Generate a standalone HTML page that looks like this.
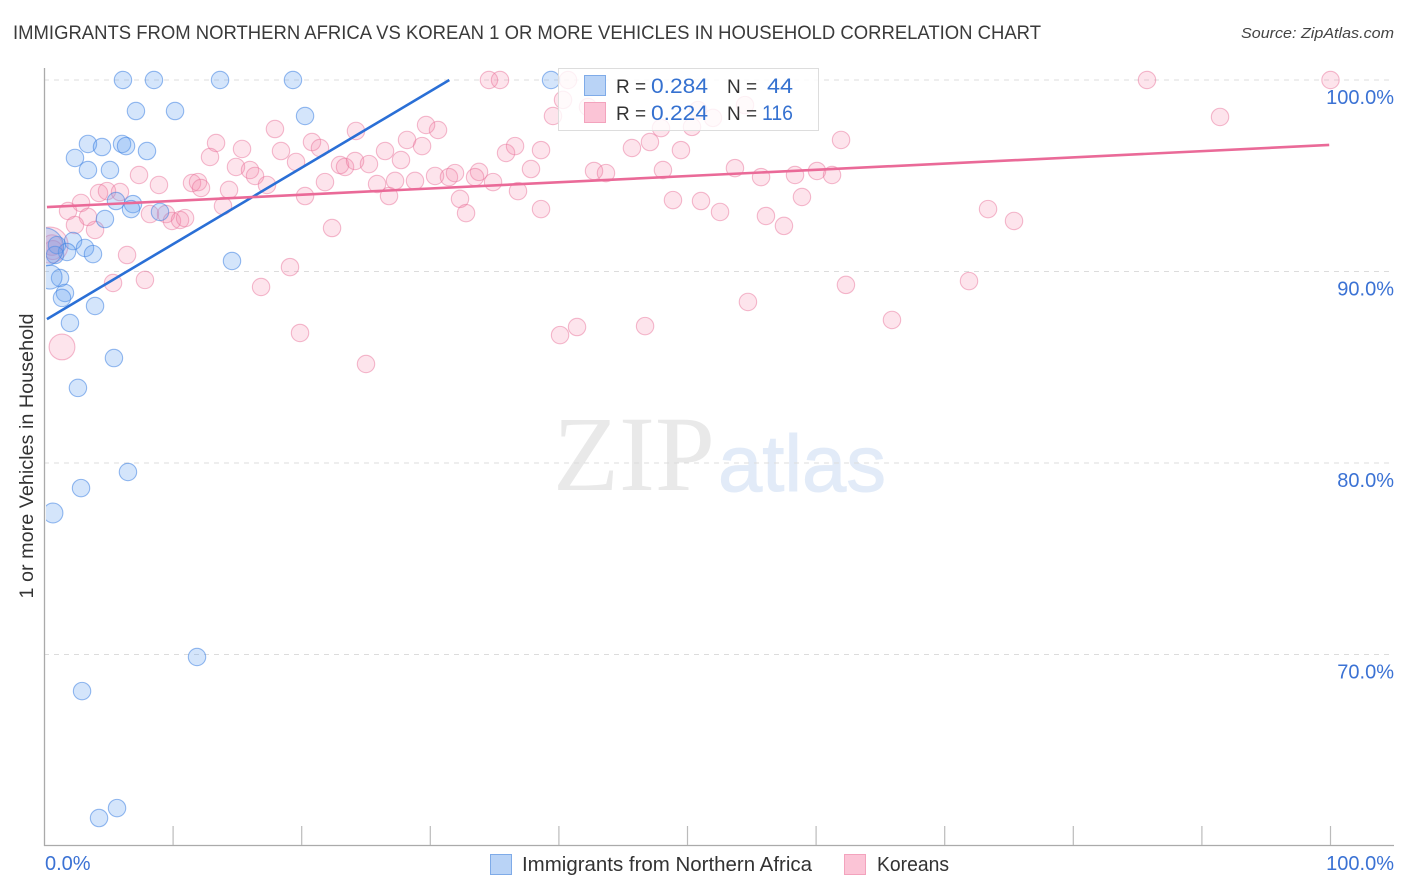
<!DOCTYPE html>
<html lang="en">
<head>
<meta charset="utf-8">
<title>Immigrants from Northern Africa vs Korean correlation chart</title>
<style>
html,body{margin:0;padding:0;background:#fff;width:1406px;height:892px;overflow:hidden}
svg{display:block;font-family:"Liberation Sans",sans-serif}
</style>
</head>
<body>
<svg id="chart" width="1406" height="892" viewBox="0 0 1406 892" xmlns="http://www.w3.org/2000/svg">
  <defs><clipPath id="plot-clip"><rect x="46" y="60" width="1350" height="786"/></clipPath></defs>
  <text x="13" y="39" font-size="19" fill="#3a3a3a" textLength="1028" lengthAdjust="spacingAndGlyphs">IMMIGRANTS FROM NORTHERN AFRICA VS KOREAN 1 OR MORE VEHICLES IN HOUSEHOLD CORRELATION CHART</text>
  <text x="1241" y="38" font-size="15" font-style="italic" fill="#444" textLength="153" lengthAdjust="spacingAndGlyphs">Source: ZipAtlas.com</text>
  <g>
    <text x="553" y="490" font-family="'Liberation Serif',serif" font-size="107" fill="#e9e9e9" textLength="162" lengthAdjust="spacingAndGlyphs">ZIP</text>
    <text x="718" y="491" font-size="80" fill="#e2ebf8" stroke="#e2ebf8" stroke-width="1" textLength="168" lengthAdjust="spacingAndGlyphs">atlas</text>
  </g>
  <g id="grid"></g>
  <g id="axes"></g>
  <g id="points" clip-path="url(#plot-clip)"></g>
  <g id="trends"></g>
  <text transform="translate(33,456) rotate(-90)" font-size="19.5" fill="#333" text-anchor="middle" textLength="285" lengthAdjust="spacingAndGlyphs">1 or more Vehicles in Household</text>
  <g>
    <rect x="558.5" y="68.5" width="260" height="62" fill="#fff" fill-opacity="0.8" stroke="#ddd"/>
    <rect x="584.5" y="75.5" width="21" height="20" fill="#b9d3f6" stroke="#7fabe8"/>
    <rect x="584.5" y="102.5" width="21" height="20" fill="#fbc4d6" stroke="#f3a3bd"/>
    <text x="616" y="93" font-size="19" fill="#333">R =</text>
    <text x="651" y="93" font-size="21" fill="#3571d0" textLength="57" lengthAdjust="spacingAndGlyphs">0.284</text>
    <text x="727" y="93" font-size="19" fill="#333">N =</text>
    <text x="767" y="93" font-size="21" fill="#3571d0" textLength="26" lengthAdjust="spacingAndGlyphs">44</text>
    <text x="616" y="120" font-size="19" fill="#333">R =</text>
    <text x="651" y="120" font-size="21" fill="#3571d0" textLength="57" lengthAdjust="spacingAndGlyphs">0.224</text>
    <text x="727" y="120" font-size="19" fill="#333">N =</text>
    <text x="762" y="120" font-size="21" fill="#3571d0" textLength="31" lengthAdjust="spacingAndGlyphs">116</text>
  </g>
  <g>
    <rect x="490.5" y="854.5" width="21" height="20" fill="#b9d3f6" stroke="#7fabe8"/>
    <text x="522" y="871" font-size="20" fill="#333" textLength="290" lengthAdjust="spacingAndGlyphs">Immigrants from Northern Africa</text>
    <rect x="844.5" y="854.5" width="21" height="20" fill="#fbc4d6" stroke="#f3a3bd"/>
    <text x="877" y="871" font-size="20" fill="#333" textLength="72" lengthAdjust="spacingAndGlyphs">Koreans</text>
  </g>
</svg>
<script>
const yTickValues = [100, 90, 80, 70];
const yTickLabels = ["100.0%", "90.0%", "80.0%", "70.0%"];
const xTickValues = [0, 10, 20, 30, 40, 50, 60, 70, 80, 90, 100];
const xEndLabels = ["0.0%", "100.0%"];

const africaShare = [6.10,8.51,13.65,19.32,39.39,7.11,10.15,20.26,3.38,6.03,6.34,4.47,7.97,2.37,3.38,5.09,5.56,6.88,6.73,8.98,4.70,0.97,2.22,3.15,1.75,3.77,14.58,0.82,1.21,0.43,1.59,1.36,3.93,1.98,5.40,2.60,6.49,2.84,0.66,11.86,2.92,5.64,4.24,0.00];
const africaVehicles = [100,100,100,100,100,98.38,98.38,98.12,96.66,96.66,96.55,96.50,96.29,95.93,95.30,95.30,93.68,93.52,93.26,93.11,92.74,91.38,91.59,91.23,91.02,90.91,90.55,90.86,89.66,89.71,88.88,88.62,88.20,87.31,85.48,83.92,79.53,78.69,77.39,69.87,68.09,61.98,61.46,91.28];
const africaWeight = [1,1,1,1,1,1,1,1,1,1,1,1,1,1,1,1,1,1,1,1,1,1,1,1,1,1,1,1,1,1.9,1,1,1,1,1,1,1,1,1.3,1,1,1,1,4.8];

const koreanShare = [34.56,35.42,40.71,85.73,100,40.32,42.26,39.54,50.82,51.98,54.47,47.94,50.35,45.68,47.08,49.49,61.94,35.89,36.59,38.61,37.83,42.73,43.66,48.09,53.69,55.72,58.36,60.07,61.24,91.41,17.92,13.34,12.87,15.36,18.39,20.80,21.42,19.56,14.89,15.98,16.37,7.35,8.90,11.47,11.94,12.17,14.35,17.30,21.81,22.98,23.37,20.26,13.88,22.36,4.24,4.86,5.87,2.84,1.83,3.38,2.37,3.93,8.20,9.45,9.91,10.54,10.93,6.42,5.33,7.81,16.84,19.09,19.87,1.36,0.58,0.66,24.22,28.19,30.60,29.67,29.36,24.15,25.23,26.48,27.72,25.86,27.26,28.81,26.79,30.37,31.45,31.92,33.79,33.48,34.88,32.31,32.78,36.82,38.61,48.87,51.05,52.53,56.10,57.50,58.90,73.37,75.39,62.32,65.90,71.89,54.70,46.70,41.41,40.09,25.00,0.43];
const koreanVehicles = [100,100,100,100,100,98.96,98.59,98.12,98.43,98.02,98.69,97.49,97.55,96.45,96.76,96.34,96.87,96.19,96.55,96.34,95.35,95.25,95.14,95.30,95.40,94.93,95.04,95.25,95.04,98.07,97.44,96.71,95.98,96.40,96.29,96.76,96.45,95.72,95.46,95.30,94.99,95.04,94.52,94.62,94.67,94.36,94.26,94.52,94.67,95.56,95.46,93.94,93.42,92.27,94.10,94.20,94.15,93.58,93.16,92.85,92.43,92.17,93.00,93.00,92.64,92.69,92.79,90.86,89.40,89.56,89.19,90.23,86.79,86.06,91.38,91.12,97.34,96.87,97.39,97.65,96.55,95.77,95.61,96.29,95.82,94.57,94.73,94.73,93.94,94.99,94.93,95.14,95.20,94.93,94.67,93.79,93.05,94.20,93.26,93.73,93.68,93.11,92.90,92.38,93.89,93.26,92.64,89.30,87.47,89.50,88.41,87.15,87.10,86.68,85.17,91.38];
const koreanWeight = [
  1,1,1,1,1,1,1,1,1,1,
  1,1,1,1,1,1,1,1,1,1,
  1,1,1,1,1,1,1,1,1,1,
  1,1,1,1,1,1,1,1,1,1,
  1,1,1,1,1,1,1,1,1,1,
  1,1,1,1,1,1,1,1,1,1,
  1,1,1,1,1,1,1,1,1,1,
  1,1,1,2.2,1.4,1.2,1,1,1,1,
  1,1,1,1,1,1,1,1,1,1,
  1,1,1,1,1,1,1,1,1,1,
  1,1,1,1,1,1,1,1,1,1,
  1,1,1,1,1,4.3];

const africaTrend = [87.44, 0.399];
const koreanTrend = [93.36, 0.0325];
const trendDomain = [0.19, 99.9];

const NS = "http://www.w3.org/2000/svg";
function xScale(v) { return 44.5 + v * 12.86; }
function yScale(v) { return 80 + (100 - v) * 19.15; }
function make(tag, attrs, parent, text) {
  const el = document.createElementNS(NS, tag);
  for (const k in attrs) el.setAttribute(k, attrs[k]);
  if (text !== undefined) el.textContent = text;
  parent.appendChild(el);
  return el;
}
const grid = document.getElementById("grid");
const axes = document.getElementById("axes");
const pointsLayer = document.getElementById("points");
const trends = document.getElementById("trends");

yTickValues.forEach(function (v, i) {
  const line = make("line", {x1: 44, x2: 1394, y1: yScale(v), y2: yScale(v), stroke: "#dcdcdc", "stroke-width": 1, "stroke-dasharray": "5 5"}, grid);
  
  
  const label = make("text", {x: 1394, y: yScale(v) + 24, "font-size": 20, fill: "#3b72d4", "text-anchor": "end"}, axes, yTickLabels[i]);
  
  
});

const yAxis = make("line", {x1: 44.5, x2: 44.5, y1: 68, y2: 846, stroke: "#aaa", "stroke-width": 1.3}, axes);


const xAxis = make("line", {x1: 44, x2: 1394, y1: 845.5, y2: 845.5, stroke: "#aaa", "stroke-width": 1.3}, axes);



xTickValues.forEach(function (v) {
  if (v === 0) return;
  const tick = make("line", {x1: xScale(v), x2: xScale(v), y1: 826, y2: 845, stroke: "#bbb", "stroke-width": 1.2}, axes);
  
  
});

const xLabelLeft = make("text", {x: 45, y: 870, "font-size": 20, fill: "#3b72d4"}, axes, xEndLabels[0]);


const xLabelRight = make("text", {x: 1394, y: 870, "font-size": 20, fill: "#3b72d4", "text-anchor": "end"}, axes, xEndLabels[1]);



function radius(w) { return 8.7 * Math.sqrt(w); }

koreanShare.forEach(function (x, i) {
  const dot = make("circle", {cx: xScale(x), cy: yScale(koreanVehicles[i]), r: radius(koreanWeight[i]), fill: "rgba(245,130,170,0.22)", stroke: "rgba(232,112,152,0.48)", "stroke-width": 1.1}, pointsLayer);
  
  
});
africaShare.forEach(function (x, i) {
  const dot = make("circle", {cx: xScale(x), cy: yScale(africaVehicles[i]), r: radius(africaWeight[i]), fill: "rgba(100,160,240,0.28)", stroke: "rgba(55,125,225,0.52)", "stroke-width": 1.1}, pointsLayer);
  
  
});

const africaEnd = Math.min(trendDomain[1], (100 - africaTrend[0]) / africaTrend[1]);
const africaLine = make("line", {x1: xScale(trendDomain[0]), y1: yScale(africaTrend[0] + africaTrend[1] * trendDomain[0]), x2: xScale(africaEnd), y2: yScale(africaTrend[0] + africaTrend[1] * africaEnd), stroke: "#2a6fd6", "stroke-width": 2.6}, trends);


const koreanLine = make("line", {x1: xScale(trendDomain[0]), y1: yScale(koreanTrend[0] + koreanTrend[1] * trendDomain[0]), x2: xScale(trendDomain[1]), y2: yScale(koreanTrend[0] + koreanTrend[1] * trendDomain[1]), stroke: "#ea6a98", "stroke-width": 2.6}, trends);


</script>
</body>
</html>
